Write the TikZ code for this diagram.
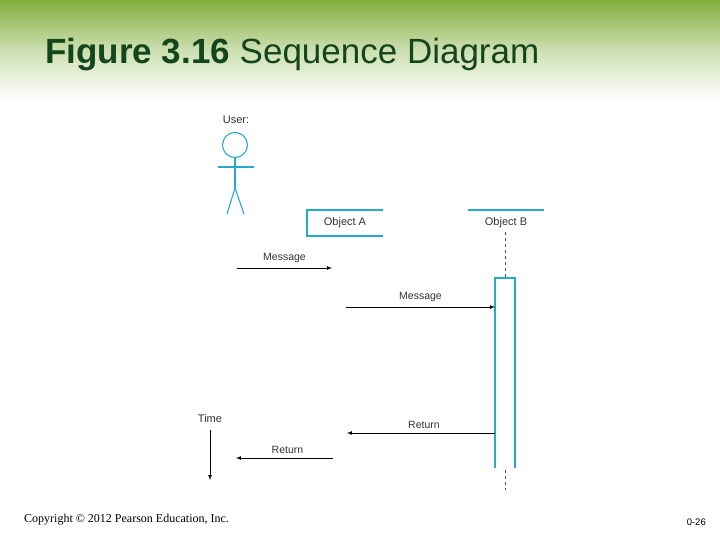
\documentclass[tikz,border=0pt]{standalone}
\usepackage{fontspec}
\setmainfont{Liberation Sans}
\newfontfamily\serifz{Liberation Serif}
\definecolor{cy}{RGB}{40,170,205}
\definecolor{hdr}{RGB}{130,175,60}
\definecolor{ttl}{RGB}{20,70,30}
\begin{document}
\begin{tikzpicture}[x=1pt,y=-1pt,
  cyl/.style={draw=cy,line width=1.1pt},
  msg/.style={draw=black,line width=0.7pt,-latex},
  lbl/.style={font=\fontsize{10.5}{12}\selectfont,text=black!80,inner sep=0},
  objlbl/.style={font=\fontsize{11}{12}\selectfont,text=black!80,inner sep=0}]
\useasboundingbox (0,0) rectangle (720,540);
\fill[white] (0,0) rectangle (720,540);
\shade[top color=hdr,bottom color=white,middle color=hdr!40] (0,0) rectangle (720,100);
\node[anchor=base west,inner sep=0,font=\fontsize{35}{40}\selectfont,text=ttl] (title) at (45,64) {\textbf{Figure 3.16} Sequence Diagram};
% actor
\node[objlbl] (user) at (236,120) {User:};
\draw[cyl] (235,145) circle (12.5);
\draw[cyl] (218,167) -- (254,167);
\draw[cyl] (235,157.5) -- (235,188) coordinate (hip);
\draw[cyl] (227,214) -- (hip) -- (244,214);
% object A
\draw[cyl] (383,210) -- (307,210) -- (307,236) -- (383,236);
\node[objlbl] (oa) at (345,223) {Object A};
% object B
\draw[cyl] (468,210) -- (544,210);
\node[objlbl] (ob) at (506,223) {Object B};
\draw[dashed,black!70,line width=0.6pt] (505,232) -- (505,278);
\draw[cyl] (495,468) -- (495,278) -- (515,278) -- (515,468);
\draw[dashed,black!70,line width=0.6pt] (505,470) -- (505,490);
% messages
\coordinate (m1a) at (237,268); \coordinate (m1b) at (332,268);
\draw[msg] (m1a) -- node[lbl,above=5pt] (l1) {Message} (m1b);
\coordinate (m2a) at (346,307); \coordinate (m2b) at (495,307);
\draw[msg] (m2a) -- node[lbl,above=5pt] (l2) {Message} (m2b);
\coordinate (r1a) at (495,433); \coordinate (r1b) at (347,433);
\draw[msg] (r1a) -- node[lbl,above=4pt,xshift=3pt] (l3) {Return} (r1b);
\coordinate (r2a) at (333,458); \coordinate (r2b) at (236,458);
\draw[msg] (r2a) -- node[lbl,above=4pt,xshift=3pt] (l4) {Return} (r2b);
% time
\node[objlbl] (time) at (210,419) {Time};
\draw[msg] (210,430) -- (210,480);
% footer
\node[anchor=base west,inner sep=0,font=\serifz\fontsize{12}{14}\selectfont] (copy) at (24,522) {Copyright © 2012 Pearson Education, Inc.};
\node[anchor=base east,inner sep=0,font=\fontsize{9.5}{10}\selectfont] (pg) at (706,525) {0-26};
\end{tikzpicture}
\end{document}
